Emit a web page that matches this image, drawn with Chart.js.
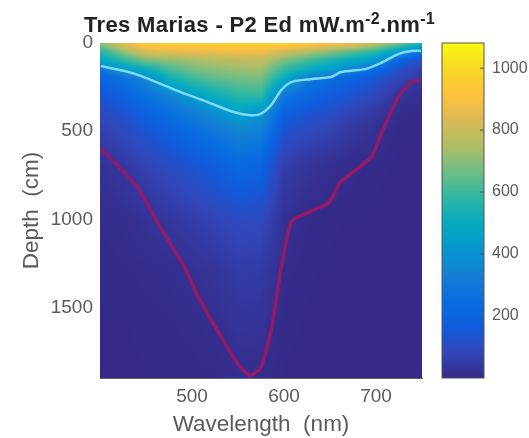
<!DOCTYPE html>
<html>
<head>
<meta charset="utf-8">
<script src="https://cdn.jsdelivr.net/npm/chart.js@4"></script>
<style>
    html, body { margin: 0; padding: 0; background: #fff; }
    #wrap { position: relative; width: 529px; height: 438px; overflow: hidden; filter: blur(0.7px); }
    canvas { position: absolute; top: 0; }
    #title { position: absolute; left: 84px; top: 12px; white-space: nowrap; letter-spacing: 0.35px; font: bold 22px "Liberation Sans", Arial, sans-serif; color: #222; }
    #title sup { font-size: 16px; line-height: 0; }
</style>
</head>
<body>
<div id="wrap">
    <canvas id="mainChart"></canvas>
    <canvas id="colorbar"></canvas>
    <div id="title">Tres Marias - P2 Ed mW.m<sup>-2</sup>.nm<sup>-1</sup></div>
</div>
<script>
// Grid of the irradiance image
const wavelengths = [400, 425, 450, 475, 500, 525, 550, 575, 600, 625, 650, 675, 700, 725, 750];
const depths = [0, 25, 50, 100, 150, 200, 300, 400, 500, 700, 1000, 1300, 1600, 1900];

// One row per depth, one value per wavelength (mW.m-2.nm-1)
const ed0    = [700, 860, 950, 960, 960, 970, 980, 980, 970, 950, 920, 880, 800, 680, 560];
const ed25   = [620, 790, 900, 910, 920, 930, 930, 930, 900, 860, 810, 760, 680, 560, 420];
const ed50   = [560, 700, 830, 850, 860, 870, 880, 880, 810, 750, 690, 630, 570, 440, 250];
const ed100  = [470, 570, 670, 700, 730, 760, 770, 780, 680, 610, 550, 490, 420, 200, 100];
const ed150  = [260, 430, 510, 610, 670, 700, 720, 730, 590, 510, 440, 340, 230, 120, 60];
const ed200  = [190, 270, 350, 520, 600, 650, 670, 680, 500, 320, 240, 190, 140, 80, 40];
const ed300  = [140, 190, 260, 340, 440, 510, 570, 580, 290, 210, 170, 130, 85, 30, 10];
const ed400  = [90, 130, 190, 250, 310, 380, 450, 410, 190, 140, 110, 70, 40, 10, 3];
const ed500  = [60, 95, 140, 185, 240, 290, 350, 330, 130, 95, 70, 35, 18, 3, 1];
const ed700  = [22, 40, 70, 100, 135, 170, 215, 200, 55, 30, 15, 8, 3, 0, 0];
const ed1000 = [6, 12, 24, 38, 55, 75, 100, 95, 22, 6, 2, 1, 0, 0, 0];
const ed1300 = [2, 4, 8, 12, 20, 30, 50, 48, 8, 2, 1, 0, 0, 0, 0];
const ed1600 = [1, 1, 3, 5, 8, 14, 28, 26, 3, 1, 0, 0, 0, 0, 0];
const ed1900 = [0, 0, 1, 2, 3, 5, 10, 8, 1, 0, 0, 0, 0, 0, 0];
const edRows = [ed0, ed25, ed50, ed100, ed150, ed200, ed300, ed400, ed500, ed700, ed1000, ed1300, ed1600, ed1900];

// Contour lines
const cyanWave = [401, 427, 445, 482, 517, 542, 561, 574, 586, 597, 608, 629, 651, 662, 688, 705, 724, 738, 749];
const cyanDepth = [131, 159, 188, 267, 335, 386, 409, 403, 352, 267, 222, 205, 193, 165, 148, 114, 63, 45, 45];
const redWave = [401, 441, 463, 492, 507, 536, 553, 564, 575, 586, 597, 607, 612, 648, 655, 661, 695, 705, 724, 738, 748];
const redDepth = [597, 818, 1023, 1273, 1443, 1705, 1841, 1886, 1841, 1631, 1273, 1023, 994, 909, 852, 790, 648, 523, 307, 222, 210];

// Axis ticks
const waveTicks = [500, 600, 700];
const depthTicks = [0, 500, 1000, 1500];
const barTicks = [200, 400, 600, 800, 1000];
const barMax = 1081;

// Parula colormap
const parula = [
    [53, 42, 135], [50, 70, 185], [15, 92, 221], [8, 110, 225], [19, 128, 212],
    [6, 151, 206], [6, 170, 193], [46, 183, 163], [111, 189, 134], [175, 190, 102],
    [217, 186, 86], [254, 193, 60], [247, 216, 38], [249, 251, 14]
];

function colorFor(value) {
    const t = Math.max(0, Math.min(1, value / barMax)) * (parula.length - 1);
    const i = Math.min(Math.floor(t), parula.length - 2);
    const f = t - i;
    return parula[i].map((c, k) => c + (parula[i + 1][k] - c) * f);
}

function findCell(list, v) {
    let i = 0;
    while (i < list.length - 2 && v > list[i + 1]) i++;
    const f = (v - list[i]) / (list[i + 1] - list[i]);
    return [i, Math.max(0, Math.min(1, f))];
}

// Paints the grid through the chart's scales
const heatmapPlugin = {
    id: 'heatmap',
    beforeDatasetsDraw(chart) {
        const { ctx, chartArea: a, scales: { x, y } } = chart;
        const w = Math.round(a.right - a.left);
        const h = Math.round(a.bottom - a.top);
        const img = ctx.createImageData(w, h);
        for (let py = 0; py < h; py++) {
            const [r, fr] = findCell(depths, y.getValueForPixel(a.top + py + 0.5));
            for (let px = 0; px < w; px++) {
                const [c, fc] = findCell(wavelengths, x.getValueForPixel(a.left + px + 0.5));
                const top = edRows[r][c] * (1 - fc) + edRows[r][c + 1] * fc;
                const bot = edRows[r + 1][c] * (1 - fc) + edRows[r + 1][c + 1] * fc;
                const rgb = colorFor(top * (1 - fr) + bot * fr);
                const o = (py * w + px) * 4;
                img.data[o] = rgb[0];
                img.data[o + 1] = rgb[1];
                img.data[o + 2] = rgb[2];
                img.data[o + 3] = 255;
            }
        }
        ctx.putImageData(img, Math.round(a.left), Math.round(a.top));
    }
};

// Paints the colour ramp from the bar's own y scale, with its frame and inner ticks
const rampPlugin = {
    id: 'ramp',
    beforeDatasetsDraw(chart) {
        const { ctx, chartArea: a, scales: { y } } = chart;
        for (let py = Math.round(a.top); py < Math.round(a.bottom); py++) {
            const rgb = colorFor(y.getValueForPixel(py + 0.5));
            ctx.fillStyle = `rgb(${rgb[0]}, ${rgb[1]}, ${rgb[2]})`;
            ctx.fillRect(a.left, py, a.right - a.left, 1);
        }
        ctx.strokeStyle = '#555';
        ctx.lineWidth = 1;
        ctx.strokeRect(a.left, a.top, a.right - a.left, a.bottom - a.top);
        barTicks.forEach(v => {
            const py = y.getPixelForValue(v);
            ctx.beginPath();
            ctx.moveTo(a.right - 4, py);
            ctx.lineTo(a.right, py);
            ctx.stroke();
        });
    }
};

const toPoints = (xs, ys) => xs.map((v, i) => ({ x: v, y: ys[i] }));
const fontFamily = '"Liberation Sans", Arial, sans-serif';
const tickFont = { family: fontFamily, size: 19 };
const labelFont = { family: fontFamily, size: 22.5 };

const mainCanvas = document.getElementById('mainChart');
mainCanvas.style.left = '0px';
mainCanvas.width = 430;
mainCanvas.height = 438;
new Chart(mainCanvas, {
    type: 'scatter',
    data: {
        datasets: [
            { data: toPoints(cyanWave, cyanDepth), showLine: true, pointRadius: 0, tension: 0.25, borderColor: '#7cdcf4', borderWidth: 2.5 },
            { data: toPoints(redWave, redDepth), showLine: true, pointRadius: 0, tension: 0.15, borderColor: '#941a68', borderWidth: 3.5 }
        ]
    },
    options: {
        responsive: false,
        animation: false,
        layout: { padding: { top: 43, right: 8, left: 0, bottom: 0 } },
        plugins: { legend: { display: false }, tooltip: { enabled: false } },
        scales: {
            x: {
                type: 'linear',
                min: 400,
                max: 750,
                afterFit(s) { s.height = 60; },
                afterBuildTicks(s) { s.ticks = waveTicks.map(v => ({ value: v })); },
                grid: { display: false, tickLength: 0 },
                border: { color: '#666' },
                ticks: { color: '#5a5a5a', font: tickFont, padding: 7, callback: v => String(v) },
                title: { display: true, text: 'Wavelength  (nm)', color: '#5a5a5a', font: labelFont, padding: 0 }
            },
            y: {
                type: 'linear',
                reverse: true,
                min: 0,
                max: 1900,
                afterFit(s) { s.width = 100; },
                afterBuildTicks(s) { s.ticks = depthTicks.map(v => ({ value: v })); },
                grid: { display: false, tickLength: 0 },
                border: { color: '#666' },
                ticks: { color: '#5a5a5a', font: tickFont, padding: 7, callback: v => String(v) },
                title: { display: true, text: 'Depth  (cm)', color: '#5a5a5a', font: labelFont, padding: { top: 18, bottom: 0 } }
            }
        }
    },
    plugins: [heatmapPlugin]
});

const barCanvas = document.getElementById('colorbar');
barCanvas.style.left = '430px';
barCanvas.width = 99;
barCanvas.height = 438;
new Chart(barCanvas, {
    type: 'scatter',
    data: { datasets: [{ data: [] }] },
    options: {
        responsive: false,
        animation: false,
        layout: { padding: { top: 43, bottom: 60, left: 12, right: 0 } },
        plugins: { legend: { display: false }, tooltip: { enabled: false } },
        scales: {
            x: { display: false, min: 0, max: 1 },
            y: {
                type: 'linear',
                position: 'right',
                min: 0,
                max: barMax,
                afterFit(s) { s.width = 45; },
                afterBuildTicks(s) { s.ticks = barTicks.map(v => ({ value: v })); },
                grid: { display: false, tickLength: 0 },
                border: { display: false },
                ticks: { color: '#5a5a5a', font: { family: fontFamily, size: 16 }, padding: 8, callback: v => String(v) }
            }
        }
    },
    plugins: [rampPlugin]
});
</script>
</body>
</html>
